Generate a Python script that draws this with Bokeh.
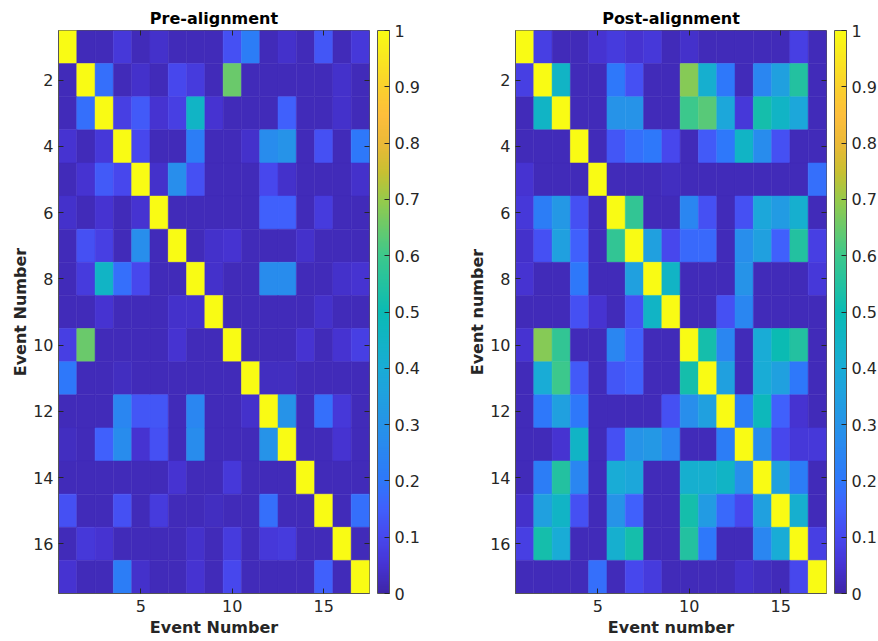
import numpy as np
from bokeh.plotting import figure
from bokeh.models import (ColumnDataSource, LinearColorMapper, ColorBar, FixedTicker,
                          LinearAxis, Range1d, CustomJSTickFormatter)
from bokeh.layouts import row
from bokeh.transform import transform
from bokeh.embed import file_html
from bokeh.resources import INLINE

# ---------------- data ----------------
event_numbers = list(range(1, 18))
x_ticks = [5, 10, 15]
y_ticks = [2, 4, 6, 8, 10, 12, 14, 16]
cbar_ticks = [0, 0.1, 0.2, 0.3, 0.4, 0.5, 0.6, 0.7, 0.8, 0.9, 1.0]

pre_similarity = [
    [1, .02, .02, .06, .02, .04, .02, .02, .02, .12, .22, .02, .04, .02, .13, .02, .06],
    [.02, 1, .18, .02, .04, .02, .10, .07, .02, .65, .02, .02, .02, .02, .02, .04, .02],
    [.02, .18, 1, .08, .14, .05, .08, .45, .05, .02, .02, .02, .15, .02, .02, .04, .02],
    [.05, .02, .06, 1, .10, .02, .02, .22, .02, .02, .04, .27, .30, .02, .12, .02, .20],
    [.02, .05, .14, .10, 1, .04, .28, .12, .02, .02, .02, .10, .04, .02, .02, .02, .04],
    [.04, .02, .05, .02, .05, 1, .02, .02, .02, .02, .02, .15, .15, .02, .07, .02, .02],
    [.02, .12, .08, .02, .28, .02, 1, .02, .04, .05, .02, .02, .02, .04, .02, .02, .02],
    [.02, .07, .45, .18, .10, .02, .02, 1, .04, .02, .02, .27, .27, .02, .02, .04, .05],
    [.02, .02, .05, .02, .02, .02, .04, .04, 1, .02, .02, .02, .02, .02, .04, .02, .02],
    [.08, .65, .02, .02, .02, .02, .05, .02, .02, 1, .02, .02, .02, .05, .02, .05, .08],
    [.20, .02, .02, .03, .02, .02, .02, .02, .02, .02, 1, .03, .03, .02, .02, .02, .02],
    [.02, .02, .02, .25, .13, .13, .02, .25, .02, .02, .04, 1, .30, .02, .18, .06, .02],
    [.03, .02, .15, .27, .05, .12, .02, .27, .02, .02, .02, .30, 1, .02, .02, .05, .02],
    [.02, .02, .02, .02, .02, .02, .05, .02, .02, .06, .02, .02, .02, 1, .02, .02, .02],
    [.12, .02, .02, .12, .02, .07, .02, .02, .03, .02, .02, .18, .02, .02, 1, .02, .18],
    [.02, .06, .05, .02, .02, .02, .02, .04, .02, .07, .02, .06, .07, .02, .02, 1, .02],
    [.05, .02, .02, .22, .04, .02, .02, .05, .02, .10, .02, .02, .02, .02, .15, .02, 1],
]

post_similarity = [
    [1, .08, .02, .02, .05, .07, .05, .06, .02, .04, .02, .02, .02, .02, .02, .08, .02],
    [.08, 1, .45, .02, .02, .20, .12, .02, .02, .68, .42, .20, .02, .25, .35, .55, .02],
    [.02, .45, 1, .02, .02, .30, .30, .02, .02, .60, .63, .38, .06, .52, .45, .38, .02],
    [.02, .02, .02, 1, .02, .13, .18, .20, .10, .02, .14, .20, .45, .27, .12, .02, .02],
    [.05, .02, .02, .02, 1, .02, .02, .02, .03, .02, .02, .02, .02, .02, .02, .02, .18],
    [.06, .22, .32, .12, .02, 1, .58, .02, .02, .25, .12, .02, .12, .38, .33, .42, .02],
    [.04, .12, .35, .15, .02, .58, 1, .35, .10, .17, .17, .02, .28, .35, .15, .55, .08],
    [.05, .02, .02, .20, .02, .02, .35, 1, .45, .02, .02, .02, .30, .02, .02, .02, .06],
    [.02, .02, .02, .12, .05, .02, .12, .45, 1, .02, .02, .12, .25, .02, .02, .02, .02],
    [.05, .68, .58, .02, .02, .25, .15, .02, .02, 1, .52, .25, .02, .40, .50, .55, .02],
    [.02, .40, .60, .14, .02, .13, .15, .02, .02, .52, 1, .35, .02, .40, .35, .20, .02],
    [.02, .20, .35, .20, .02, .02, .02, .02, .12, .28, .35, 1, .22, .48, .15, .05, .02],
    [.02, .02, .05, .45, .02, .12, .30, .32, .25, .02, .02, .22, 1, .27, .10, .06, .06],
    [.02, .22, .55, .25, .02, .40, .38, .02, .02, .42, .42, .45, .28, 1, .35, .22, .02],
    [.04, .35, .45, .12, .02, .30, .15, .02, .02, .52, .33, .17, .10, .35, 1, .42, .02],
    [.08, .52, .40, .02, .02, .42, .52, .02, .02, .55, .20, .02, .02, .25, .40, 1, .08],
    [.02, .02, .02, .02, .18, .02, .10, .07, .02, .02, .02, .02, .04, .03, .02, .10, 1],
]

# ---------------- parula-like palette ----------------
_anchors = [
    (0.00, (62, 38, 168)), (0.05, (70, 52, 212)), (0.10, (71, 72, 238)),
    (0.15, (64, 96, 252)), (0.20, (46, 120, 250)), (0.30, (38, 148, 232)),
    (0.40, (25, 172, 214)), (0.50, (10, 187, 180)), (0.60, (60, 200, 140)),
    (0.70, (150, 202, 75)), (0.75, (200, 192, 50)), (0.80, (235, 185, 55)),
    (0.85, (253, 190, 60)), (0.90, (250, 208, 45)), (1.00, (249, 251, 20)),
]


def parula(n=256):
    pos = np.array([a[0] for a in _anchors])
    cols = np.array([a[1] for a in _anchors], dtype=float)
    t = np.linspace(0, 1, n)
    out = []
    for ti in t:
        rgb = [np.interp(ti, pos, cols[:, k]) for k in range(3)]
        out.append("#%02x%02x%02x" % tuple(int(round(c)) for c in rgb))
    return out


PALETTE = parula(256)
FONT = "DejaVu Sans"
TXT = "#262626"


def style_axis(ax, ticks, show_labels=True):
    ax.ticker = FixedTicker(ticks=ticks)
    ax.major_tick_in = 5
    ax.major_tick_out = 0
    ax.minor_tick_line_color = None
    ax.axis_line_color = "#555555"
    ax.major_tick_line_color = "#262626"
    ax.major_label_text_font = FONT
    ax.major_label_text_color = TXT
    ax.axis_label_text_font = FONT
    ax.axis_label_text_font_size = "16px"
    ax.axis_label_text_font_style = "bold"
    ax.axis_label_text_color = TXT
    if show_labels:
        ax.major_label_text_font_size = "16px"
    else:
        # tick marks only (MATLAB box style): labels are not drawn at all
        ax.major_label_text_font_size = "1px"
        ax.major_label_text_color = None
        ax.major_label_standoff = 0
        ax.axis_line_color = None


def make_panel(matrix, title, xlabel, ylabel, border_left, border_right):
    n = len(matrix)
    xs, ys, vs = [], [], []
    for i, r in enumerate(matrix):
        for j, v in enumerate(r):
            xs.append(event_numbers[j])
            ys.append(event_numbers[i])
            vs.append(v)
    src = ColumnDataSource(dict(x=xs, y=ys, v=vs))
    mapper = LinearColorMapper(palette=PALETTE, low=0, high=1)

    p = figure(width=border_left + 311 + border_right, height=641,
               frame_width=311, frame_height=563,
               min_border_left=border_left, min_border_right=border_right,
               min_border_top=30, min_border_bottom=48,
               x_range=Range1d(0.5, n + 0.5), y_range=Range1d(n + 0.5, 0.5),
               output_backend="svg", toolbar_location=None, title=title)
    p.rect(x="x", y="y", width=1, height=1, source=src,
           fill_color=transform("v", mapper), line_color=transform("v", mapper),
           line_width=0.5)

    p.title.align = "center"
    p.title.text_font = FONT
    p.title.text_font_size = "16px"
    p.title.text_font_style = "bold"
    p.title.text_color = "#000000"
    p.title.offset = 0
    p.title.standoff = 6

    p.grid.visible = False
    p.outline_line_color = "#555555"
    p.outline_line_width = 1

    style_axis(p.xaxis[0], x_ticks)
    style_axis(p.yaxis[0], y_ticks)
    p.xaxis[0].axis_label = xlabel
    p.yaxis[0].axis_label = ylabel
    p.xaxis[0].major_label_standoff = 6
    p.xaxis[0].axis_label_standoff = 3
    p.yaxis[0].major_label_standoff = 5
    p.yaxis[0].axis_label_standoff = 0

    top_axis = LinearAxis()
    style_axis(top_axis, x_ticks, show_labels=False)
    p.add_layout(top_axis, "above")
    right_axis = LinearAxis()
    style_axis(right_axis, y_ticks, show_labels=False)
    p.add_layout(right_axis, "right")

    cbar = ColorBar(color_mapper=mapper, width=12, height=563,
                    ticker=FixedTicker(ticks=cbar_ticks),
                    formatter=CustomJSTickFormatter(code="return String(Math.round(tick*10)/10);"),
                    major_label_text_font=FONT, major_label_text_font_size="16px",
                    major_label_text_color=TXT, label_standoff=5,
                    major_tick_in=5, major_tick_out=0,
                    major_tick_line_color="#262626", minor_tick_line_color=None,
                    bar_line_color="#555555", border_line_color=None,
                    background_fill_alpha=0, padding=0, margin=0,
                    location=(8, 0))
    p.add_layout(cbar, "right")
    return p


p1 = make_panel(pre_similarity, "Pre-alignment", "Event Number", "Event Number", 58, 70)
p2 = make_panel(post_similarity, "Post-alignment", "Event number", "Event number", 76, 51)

layout = row(p1, p2)
open("out.html", "w").write(file_html(layout, INLINE))
